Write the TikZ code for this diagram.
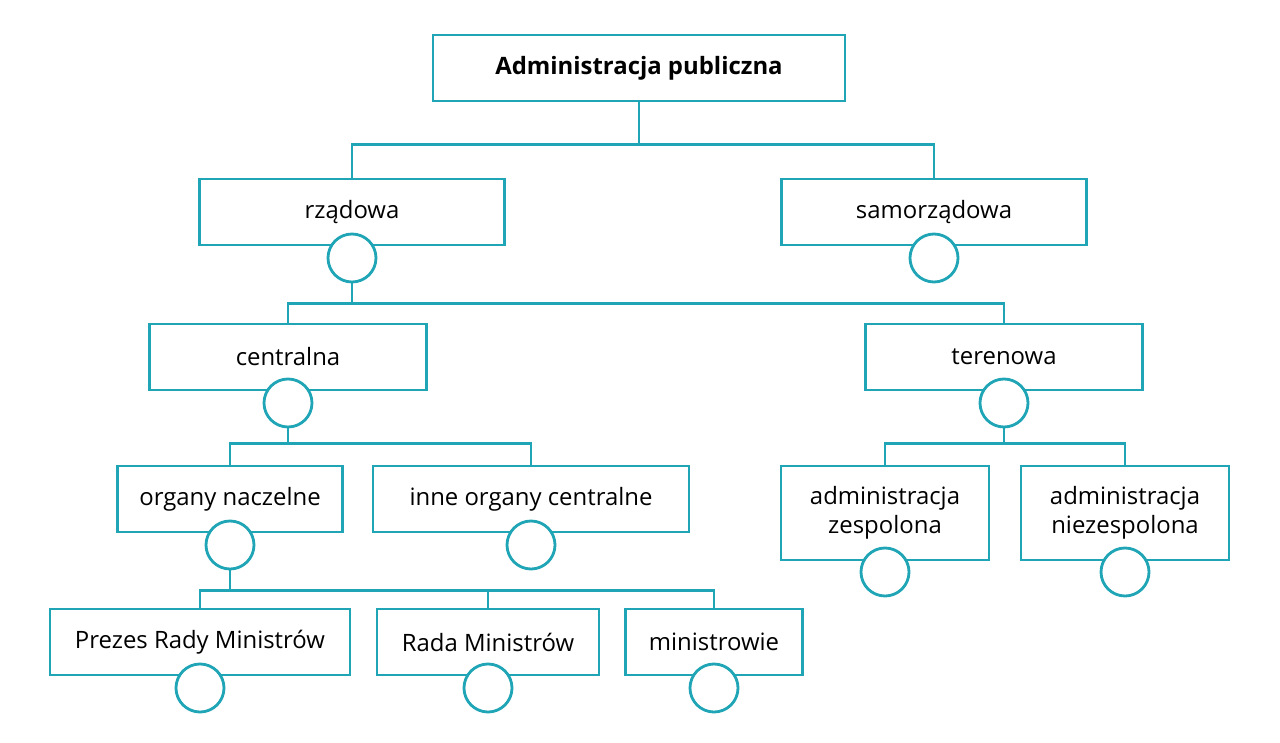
\documentclass[tikz,border=0pt]{standalone}
\usepackage{fontspec}
\setmainfont{Open Sans}
\definecolor{teal1}{HTML}{1FA5B5}

\begin{document}
\begin{tikzpicture}[x=0.025cm, y=-0.025cm, line width = 2pt,
                    box/.style = {draw=teal1, fill=white, align=center, inner sep=0pt,
                                  font=\fontsize{17}{21}\selectfont},
                    knob/.style = {circle, draw=teal1, fill=white, minimum size=1.2cm, inner sep=0pt},
                    link/.style = {draw=teal1}]
      \useasboundingbox (0,0) rectangle (1280,742);
      \node [box, minimum width=10.3cm, minimum height=1.65cm, font=\fontsize{17}{21}\selectfont\bfseries] (admin) at (639,68) {Administracja publiczna};
      \node [box, minimum width=7.63cm, minimum height=1.65cm] (rz) at (352,212) {rządowa};
      \node [box, minimum width=7.63cm, minimum height=1.65cm] (sam) at (934,212) {samorządowa};
      \node [box, minimum width=6.93cm, minimum height=1.65cm] (cen) at (288,357) {centralna};
      \node [box, minimum width=6.93cm, minimum height=1.65cm] (ter) at (1004,357) {terenowa};
      \node [box, minimum width=5.63cm, minimum height=1.65cm] (nacz) at (230,499) {organy naczelne};
      \node [box, minimum width=7.9cm, minimum height=1.65cm] (inne) at (531,499) {inne organy centralne};
      \node [box, minimum width=5.2cm, minimum height=2.35cm] (zesp) at (885,513) {administracja\\zespolona};
      \node [box, minimum width=5.2cm, minimum height=2.35cm] (niez) at (1125,513) {administracja\\niezespolona};
      \node [box, minimum width=7.5cm, minimum height=1.65cm] (prez) at (200,642) {Prezes Rady Ministrów};
      \node [box, minimum width=5.55cm, minimum height=1.65cm] (rada) at (488,642) {Rada Ministrów};
      \node [box, minimum width=4.43cm, minimum height=1.65cm] (min) at (714,642) {ministrowie};

      \node [knob] (k-rz) at (352,258) {};
      \node [knob] (k-sam) at (934,258) {};
      \node [knob] (k-cen) at (288,403) {};
      \node [knob] (k-ter) at (1004,403) {};
      \node [knob] (k-nacz) at (230,545) {};
      \node [knob] (k-inne) at (531,545) {};
      \node [knob] (k-zesp) at (885,572) {};
      \node [knob] (k-niez) at (1125,572) {};
      \node [knob] (k-prez) at (200,688) {};
      \node [knob] (k-rada) at (488,688) {};
      \node [knob] (k-min) at (714,688) {};

      \draw [link] (admin.south) -- ++(0,42) -| (rz.north);
      \draw [link] (admin.south) -- ++(0,42) -| (sam.north);
      \draw [link] (k-rz.south) -- ++(0,20) -| (cen.north);
      \draw [link] (k-rz.south) -- ++(0,20) -| (ter.north);
      \draw [link] (k-cen.south) -- ++(0,15) -| (nacz.north);
      \draw [link] (k-cen.south) -- ++(0,15) -| (inne.north);
      \draw [link] (k-ter.south) -- ++(0,15) -| (zesp.north);
      \draw [link] (k-ter.south) -- ++(0,15) -| (niez.north);
      \draw [link] (k-nacz.south) -- ++(0,20) -| (prez.north);
      \draw [link] (k-nacz.south) -- ++(0,20) -| (rada.north);
      \draw [link] (k-nacz.south) -- ++(0,20) -| (min.north);
    \end{tikzpicture}
\end{document}
